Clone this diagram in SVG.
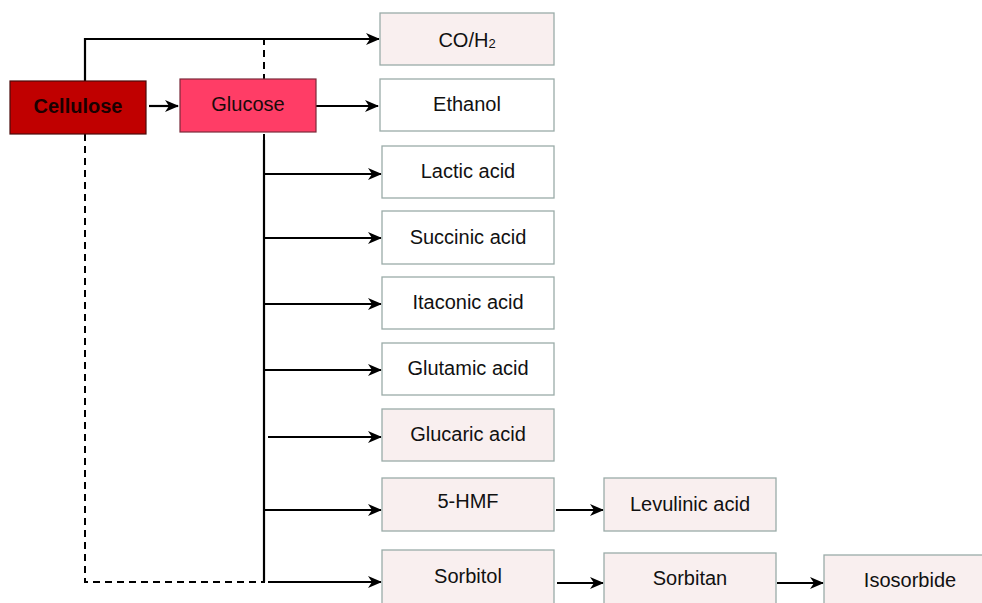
<svg xmlns="http://www.w3.org/2000/svg" width="982" height="603" viewBox="0 0 982 603">
  <defs>
    <marker id="arrow" viewBox="0 0 14 12" refX="13" refY="6" markerWidth="14" markerHeight="12" markerUnits="userSpaceOnUse" orient="auto">
      <path d="M0,0 L14,6 L0,12 L4,6 Z" fill="#000"/>
    </marker>
    <style>
      .box { stroke: #9aaba8; stroke-width: 1.3; }
      .pink { fill: #f9efef; }
      .white { fill: #ffffff; }
      .lbl { font-family: "Liberation Sans", Arial, sans-serif; font-size: 20px; fill: #111; text-anchor: middle; dominant-baseline: central; }
      .ln { fill: none; stroke: #000; stroke-width: 2.2; }
      .dash { fill: none; stroke: #000; stroke-width: 2; stroke-dasharray: 7 5; }
      .arr { fill: none; stroke: #000; stroke-width: 2.2; marker-end: url(#arrow); }
    </style>
  </defs>
  <rect width="982" height="603" fill="#fff"/>

  <!-- connectors -->
  <g id="connectors">
    <path class="dash" d="M85,134 V582 H264 V39"/>
    <path class="ln" d="M264,140 V582"/>
    <path class="arr" d="M85,81 V39 H379"/>
    <path class="arr" d="M149,106 H178"/>
    <path class="arr" d="M316,106 H378"/>
    <path class="arr" d="M264,174 H381"/>
    <path class="arr" d="M264,238 H381"/>
    <path class="arr" d="M264,304 H381"/>
    <path class="arr" d="M264,370 H381"/>
    <path class="arr" d="M268,437 H381"/>
    <path class="arr" d="M264,510 H381"/>
    <path class="arr" d="M268,582 H381"/>
    <path class="arr" d="M556,510 H603"/>
    <path class="arr" d="M557,583 H603"/>
    <path class="arr" d="M777,583 H823"/>
  </g>

  <g id="cellulose">
    <rect x="10" y="81" width="136" height="53" fill="#c00000" stroke="#4a0a0a" stroke-width="1.2"/>
    <text class="lbl" x="78" y="106" font-weight="bold" style="fill:#1a0000">Cellulose</text>
  </g>
  <g id="glucose">
    <rect x="180" y="79" width="136" height="53" fill="#ff3d66" stroke="#7a2a3a" stroke-width="1.2"/>
    <text class="lbl" x="248" y="104" style="fill:#1a0a0a">Glucose</text>
  </g>
  <g id="syngas">
    <rect class="box pink" x="380" y="13" width="174" height="52"/>
    <text class="lbl" x="467" y="40">CO/H<tspan font-size="13" dy="3">2</tspan></text>
  </g>
  <g id="ethanol">
    <rect class="box white" x="380" y="79" width="174" height="52"/>
    <text class="lbl" x="467" y="104">Ethanol</text>
  </g>
  <g id="lactic-acid">
    <rect class="box white" x="382" y="146" width="172" height="52"/>
    <text class="lbl" x="468" y="171">Lactic acid</text>
  </g>
  <g id="succinic-acid">
    <rect class="box white" x="382" y="211" width="172" height="53"/>
    <text class="lbl" x="468" y="237">Succinic acid</text>
  </g>
  <g id="itaconic-acid">
    <rect class="box white" x="382" y="277" width="172" height="52"/>
    <text class="lbl" x="468" y="302">Itaconic acid</text>
  </g>
  <g id="glutamic-acid">
    <rect class="box white" x="382" y="343" width="172" height="52"/>
    <text class="lbl" x="468" y="368">Glutamic acid</text>
  </g>
  <g id="glucaric-acid">
    <rect class="box pink" x="382" y="409" width="172" height="52"/>
    <text class="lbl" x="468" y="434">Glucaric acid</text>
  </g>
  <g id="hmf">
    <rect class="box pink" x="382" y="478" width="172" height="53"/>
    <text class="lbl" x="468" y="501">5-HMF</text>
  </g>
  <g id="sorbitol">
    <rect class="box pink" x="382" y="550" width="172" height="60"/>
    <text class="lbl" x="468" y="576">Sorbitol</text>
  </g>
  <g id="levulinic-acid">
    <rect class="box pink" x="604" y="478" width="172" height="53"/>
    <text class="lbl" x="690" y="504">Levulinic acid</text>
  </g>
  <g id="sorbitan">
    <rect class="box pink" x="604" y="553" width="172" height="60"/>
    <text class="lbl" x="690" y="578">Sorbitan</text>
  </g>
  <g id="isosorbide">
    <rect class="box pink" x="824" y="555" width="172" height="60"/>
    <text class="lbl" x="910" y="580">Isosorbide</text>
  </g>
</svg>
